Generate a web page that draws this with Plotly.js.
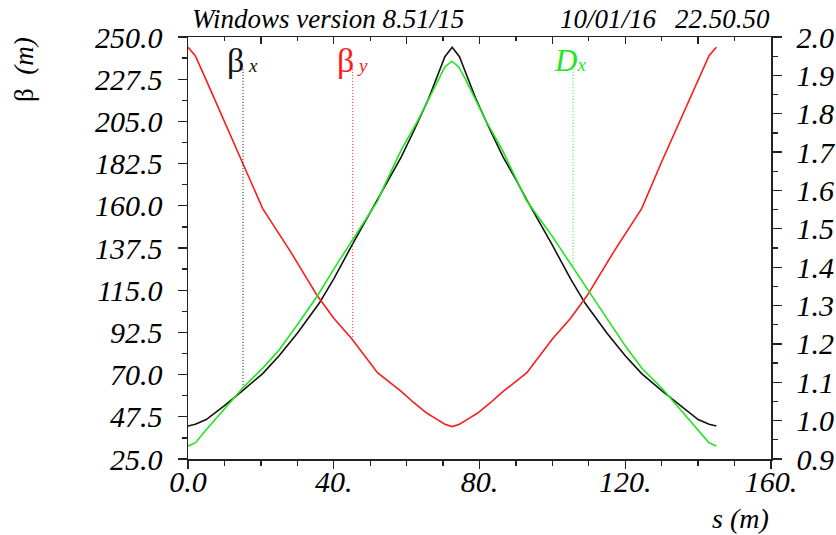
<!DOCTYPE html>
<html>
<head>
<meta charset="utf-8">
<script src="https://cdn.plot.ly/plotly-3.0.1.min.js"></script>
<style>html,body{margin:0;padding:0;background:#fff;}#chart{width:836px;height:535px;}</style>
</head>
<body>
<div id="chart"></div>
<script>
// ---- data ----
const sBetaX = [0, 2, 5, 10, 15, 20.5, 25, 30, 36, 40, 45, 52, 55, 58.5, 62, 66, 69, 70.5, 72.5, 74.5, 76, 79, 83, 86.5, 90, 93, 100, 105, 109, 115, 120, 124.5, 130, 135, 140, 143, 145];
const betaX = [42.6, 43.5, 46, 53.5, 61.5, 70.5, 80, 92, 108, 121, 139, 163, 174, 186, 200, 217, 232, 239.5, 244.5, 239.5, 232, 217, 200, 186, 174, 163, 139, 121, 108, 92, 80, 70.5, 61.5, 53.5, 46, 43.5, 42.6];

const sBetaY = [0, 2, 5, 10, 15, 20.5, 28, 35.5, 40, 45, 52, 58.5, 62, 65.5, 68, 70.5, 72.5, 74.5, 77, 79.5, 83, 86.5, 93, 100, 105, 109.5, 117, 124.5, 130, 135, 140, 143, 145];
const betaY = [244.5, 240, 227, 205, 183, 158.5, 136, 112, 100, 89, 71, 61, 55, 49.5, 46.5, 43.5, 42.3, 43.5, 46.5, 49.5, 55, 61, 71, 89, 100, 112, 136, 158.5, 183.5, 205.5, 227, 240, 244.5];

const sDx = [0, 2, 5, 10, 15, 20.5, 25, 30, 35.5, 40, 45, 52, 54.6, 58.5, 63, 68.7, 70.5, 72.4, 74.3, 76.1, 81.8, 86.3, 90.2, 92.8, 100, 105.7, 110, 115, 120, 124.5, 130, 135, 140, 143, 145];
const dispX = [0.934, 0.942, 0.976, 1.030, 1.085, 1.137, 1.184, 1.250, 1.325, 1.395, 1.470, 1.572, 1.627, 1.705, 1.781, 1.891, 1.922, 1.937, 1.922, 1.891, 1.781, 1.705, 1.627, 1.575, 1.480, 1.400, 1.338, 1.266, 1.195, 1.137, 1.085, 1.030, 0.976, 0.942, 0.934];

// label positions along s and dotted marker line extents
const labelS = [15.1, 45.2, 105.7];
const dotTop = [233, 233, 1.917];
const dotBottom = [61.7, 89, 1.40];

const xTickVals = [0, 40, 80, 120, 160];
const xTickText = ['0.0', '40.', '80.', '120.', '160.'];

const headerLeft = 'Windows version 8.51/15';
const headerRight = '10/01/16\u00a0\u00a0\u200922.50.50';

// ---- styles ----
const serif = 'Liberation Serif, Times New Roman, serif';
const RED = '#ff1a1a', BLACK = '#111111', GREEN = '#1fe61f';

const traces = [
  {x: sBetaX, y: betaX, mode: 'lines', line: {color: BLACK, width: 1.6}, xaxis: 'x', yaxis: 'y', hoverinfo: 'skip'},
  {x: sBetaY, y: betaY, mode: 'lines', line: {color: RED, width: 1.6}, xaxis: 'x', yaxis: 'y', hoverinfo: 'skip'},
  {x: sDx, y: dispX, mode: 'lines', line: {color: GREEN, width: 1.6}, xaxis: 'x', yaxis: 'y2', hoverinfo: 'skip'},
  {x: [labelS[0], labelS[0]], y: [dotTop[0], dotBottom[0]], mode: 'lines', line: {color: BLACK, width: 1, dash: '1px,2px'}, yaxis: 'y'},
  {x: [labelS[1], labelS[1]], y: [dotTop[1], dotBottom[1]], mode: 'lines', line: {color: RED, width: 1, dash: '1px,2px'}, yaxis: 'y'},
  {x: [labelS[2], labelS[2]], y: [dotTop[2], dotBottom[2]], mode: 'lines', line: {color: GREEN, width: 1, dash: '1px,2px'}, yaxis: 'y2'},
  {x: [], y: [], xaxis: 'x2', yaxis: 'y', mode: 'lines', showlegend: false}
];

const tickFont = {family: serif, size: 30, color: '#000', style: 'italic'};
const axisLine = {showline: true, linecolor: '#222', linewidth: 1.5, showgrid: false, zeroline: false, tickcolor: '#222', tickwidth: 1.3};

const layout = {
  width: 836, height: 535,
  margin: {l: 188, r: 65, t: 37, b: 76, pad: 0},
  paper_bgcolor: '#fff', plot_bgcolor: '#fff',
  showlegend: false,
  xaxis: Object.assign({}, axisLine, {
    range: [0, 160], tickmode: 'array', tickvals: xTickVals, ticktext: xTickText,
    ticks: 'outside', ticklen: 8, tickfont: tickFont, ticklabelstandoff: -13,
    minor: {tickmode: 'linear', tick0: 0, dtick: 10, ticks: 'outside', ticklen: 5, tickcolor: '#222'}
  }),
  xaxis2: Object.assign({}, axisLine, {
    range: [0, 160], overlaying: 'x', side: 'top', anchor: 'y', matches: 'x',
    tickmode: 'linear', tick0: 0, dtick: 20, ticks: 'inside', ticklen: 7, showticklabels: false,
    minor: {tickmode: 'linear', tick0: 0, dtick: 10, ticks: 'inside', ticklen: 4, tickcolor: '#222'}
  }),
  yaxis: Object.assign({}, axisLine, {
    range: [25, 250], tickmode: 'linear', tick0: 25, dtick: 22.5, tickformat: '.1f',
    ticks: 'outside', ticklen: 9, tickfont: tickFont, ticklabelstandoff: 9,
    minor: {tickmode: 'linear', tick0: 25, dtick: 11.25, ticks: 'outside', ticklen: 5, tickcolor: '#222'}
  }),
  yaxis2: Object.assign({}, axisLine, {
    range: [0.9, 2.0], overlaying: 'y', side: 'right', anchor: 'x',
    tickmode: 'linear', tick0: 0.9, dtick: 0.1, tickformat: '.1f',
    ticks: 'outside', ticklen: 9, tickfont: tickFont, ticklabelstandoff: 9,
    minor: {tickmode: 'linear', tick0: 0.9, dtick: 0.05, ticks: 'outside', ticklen: 5, tickcolor: '#222'}
  }),
  annotations: [
    {text: headerLeft, xref: 'paper', yref: 'paper', x: 0.003, y: 1.043, xanchor: 'left', yanchor: 'middle', showarrow: false,
     font: {family: serif, size: 27, color: '#000', style: 'italic'}},
    {text: headerRight, xref: 'paper', yref: 'paper', x: 1.002, y: 1.043, xanchor: 'right', yanchor: 'middle', showarrow: false,
     font: {family: serif, size: 27, color: '#000', style: 'italic'}},
    {text: 'β\u00a0 <i>(m)</i>', xref: 'paper', yref: 'paper', x: -0.281, y: 0.922, xanchor: 'center', yanchor: 'middle', textangle: -90, showarrow: false,
     font: {family: serif, size: 27, color: '#000'}},
    {text: '<i>s (m)</i>', xref: 'paper', yref: 'paper', x: 1.0, y: -0.142, xanchor: 'right', yanchor: 'middle', showarrow: false,
     font: {family: serif, size: 28, color: '#000'}},
    {text: 'β<span style="font-size:19px"><i>\u00a0x</i></span>', xref: 'x', yref: 'paper', x: labelS[0], y: 0.945, xanchor: 'left', xshift: -18, yanchor: 'middle', showarrow: false,
     font: {family: serif, size: 34, color: BLACK}},
    {text: 'β<span style="font-size:19px"><i>\u00a0y</i></span>', xref: 'x', yref: 'paper', x: labelS[1], y: 0.945, xanchor: 'left', xshift: -18, yanchor: 'middle', showarrow: false,
     font: {family: serif, size: 34, color: RED}},
    {text: '<i>D<span style="font-size:19px">x</span></i>', xref: 'x', yref: 'paper', x: labelS[2], y: 0.945, xanchor: 'left', xshift: -21, yanchor: 'middle', showarrow: false,
     font: {family: serif, size: 31, color: GREEN}}
  ]
};

Plotly.newPlot('chart', traces, layout, {staticPlot: true, displayModeBar: false});
</script>
</body>
</html>
